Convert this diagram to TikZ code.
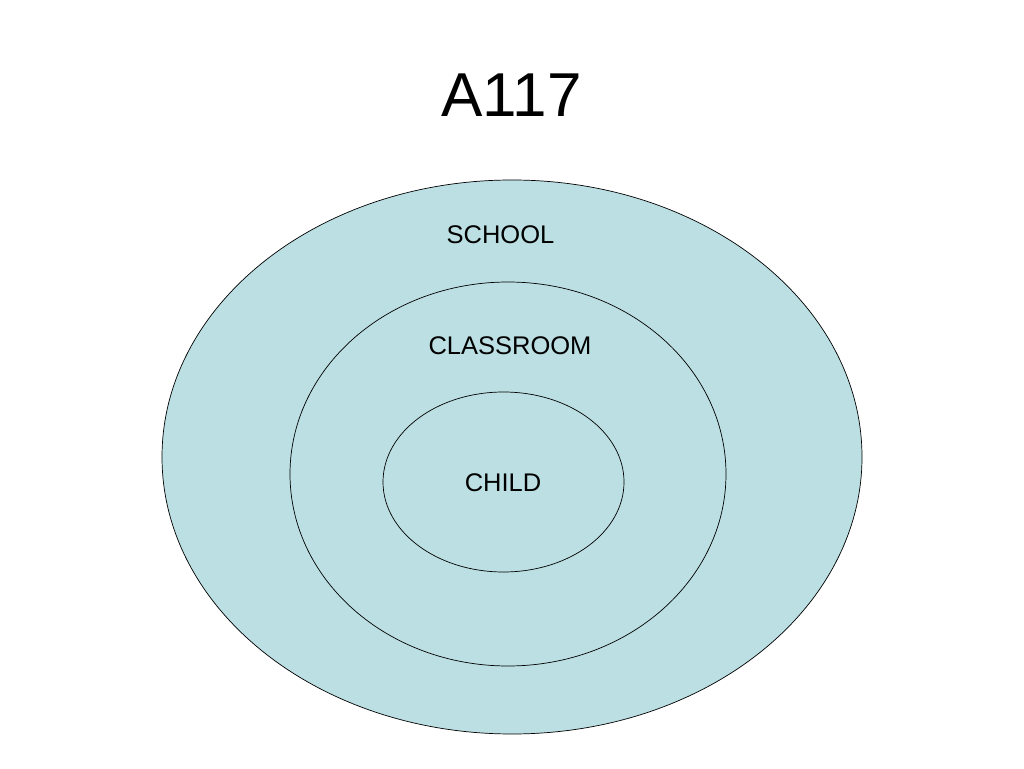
\documentclass[tikz,border=0pt]{standalone}
\usepackage{fontspec}
\setmainfont{Liberation Sans}
\definecolor{fillblue}{HTML}{BBDFE3}
\begin{document}
\begin{tikzpicture}[x=1pt,y=1pt,
  ring/.style={draw=black, line width=0.7pt, fill=fillblue},
  lbl/.style={font=\fontsize{25.5}{30}\selectfont, inner sep=0pt}]
\useasboundingbox (0,0) rectangle (1024,768);
\node[font=\fontsize{62}{72}\selectfont, inner sep=0pt] (title) at (511.5,673) {A117};
\draw[ring] (512,311) ellipse [x radius=350, y radius=277];
\draw[ring] (508,294) ellipse [x radius=218, y radius=192];
\draw[ring] (503.5,286) ellipse [x radius=120.5, y radius=90];
\node[lbl] (school) at (500.5,533) {SCHOOL};
\node[lbl] (classroom) at (510,422) {CLASSROOM};
\node[lbl] (child) at (503,285) {CHILD};
\end{tikzpicture}
\end{document}
